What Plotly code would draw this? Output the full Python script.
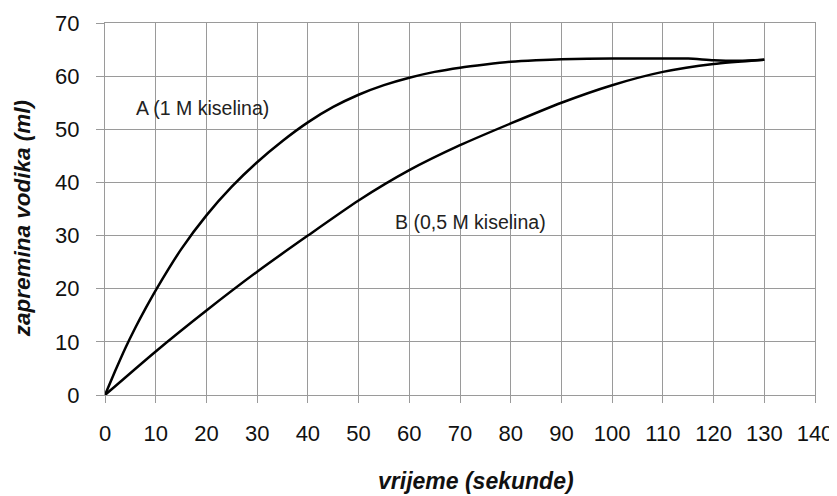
import plotly.graph_objects as go

# Data
time_a = [0, 2, 4, 6, 8, 10, 15, 20, 25, 30, 35, 40, 45, 50, 55, 60, 65, 70, 75, 80, 85, 90, 100, 110, 115, 120, 125, 130]
vol_a = [0, 4.5, 8.8, 12.7, 16.3, 19.7, 27.4, 33.8, 39.2, 43.8, 47.8, 51.3, 54.2, 56.5, 58.3, 59.7, 60.8, 61.6, 62.2, 62.7, 63.0, 63.2, 63.3, 63.3, 63.3, 63.0, 62.9, 63.1]

time_b = [0, 10, 20, 30, 40, 50, 60, 70, 80, 90, 100, 110, 120, 130]
vol_b = [0, 8.2, 15.9, 23.2, 30.0, 36.6, 42.3, 47.0, 51.1, 55.0, 58.3, 60.8, 62.3, 63.1]

label_a = "A (1 M kiselina)"
label_b = "B (0,5 M kiselina)"
label_a_pos = (19.2, 54.1)
label_b_pos = (72.0, 32.5)

x_ticks = list(range(0, 141, 10))
y_ticks = list(range(0, 71, 10))

x_title = "vrijeme (sekunde)"
y_title = "zapremina vodika (ml)"

FONT = "Liberation Sans, Arial, sans-serif"
GRID = "#9a9a9a"

fig = go.Figure()
fig.add_trace(go.Scatter(x=time_a, y=vol_a, mode="lines",
                         line=dict(color="black", width=2.5, shape="spline", smoothing=0.6), showlegend=False))
fig.add_trace(go.Scatter(x=time_b, y=vol_b, mode="lines",
                         line=dict(color="black", width=2.5, shape="spline", smoothing=0.6), showlegend=False))

# the page body adds an 8px offset, so the figure is 8px smaller than the window
fig.update_layout(
    width=829, height=488,
    margin=dict(l=97, r=22, t=15, b=101, autoexpand=False),
    paper_bgcolor="white", plot_bgcolor="white",
    font=dict(family=FONT, color="#111111"),
    xaxis=dict(range=[0, 140], tickvals=x_ticks, ticktext=[str(v) for v in x_ticks],
               showgrid=True, gridcolor=GRID, gridwidth=1.3, automargin=False,
               showline=True, linecolor=GRID, linewidth=1.3, mirror=True,
               ticks="outside", ticklen=7, tickcolor=GRID, tickwidth=1.3,
               tickfont=dict(size=22, family=FONT, color="#111111"),
               ticklabelstandoff=11, zeroline=False, fixedrange=True),
    yaxis=dict(range=[0, 70], tickvals=y_ticks, ticktext=[str(v) for v in y_ticks],
               showgrid=True, gridcolor=GRID, gridwidth=1.3, automargin=False,
               showline=True, linecolor=GRID, linewidth=1.3, mirror=True,
               ticks="outside", ticklen=8, tickcolor=GRID, tickwidth=1.3,
               tickfont=dict(size=22, family=FONT, color="#111111"),
               ticklabelstandoff=12, zeroline=False, fixedrange=True),
    annotations=[
        dict(x=label_a_pos[0], y=label_a_pos[1], xref="x", yref="y", text=label_a, showarrow=False,
             font=dict(size=19.5, family=FONT, color="#222222"), xanchor="center", yanchor="middle"),
        dict(x=label_b_pos[0], y=label_b_pos[1], xref="x", yref="y", text=label_b, showarrow=False,
             font=dict(size=19.5, family=FONT, color="#222222"), xanchor="center", yanchor="middle"),
        dict(x=0.5225, y=-0.231, xref="paper", yref="paper", text="<b><i>" + x_title + "</i></b>", showarrow=False,
             font=dict(size=23, family=FONT, color="#111111"), xanchor="center", yanchor="middle"),
        dict(x=-0.117, y=0.475, xref="paper", yref="paper", text="<b><i>" + y_title + "</i></b>", showarrow=False,
             textangle=-90, font=dict(size=22.5, family=FONT, color="#111111"), xanchor="center", yanchor="middle"),
    ],
)

fig.write_html("out.html")
